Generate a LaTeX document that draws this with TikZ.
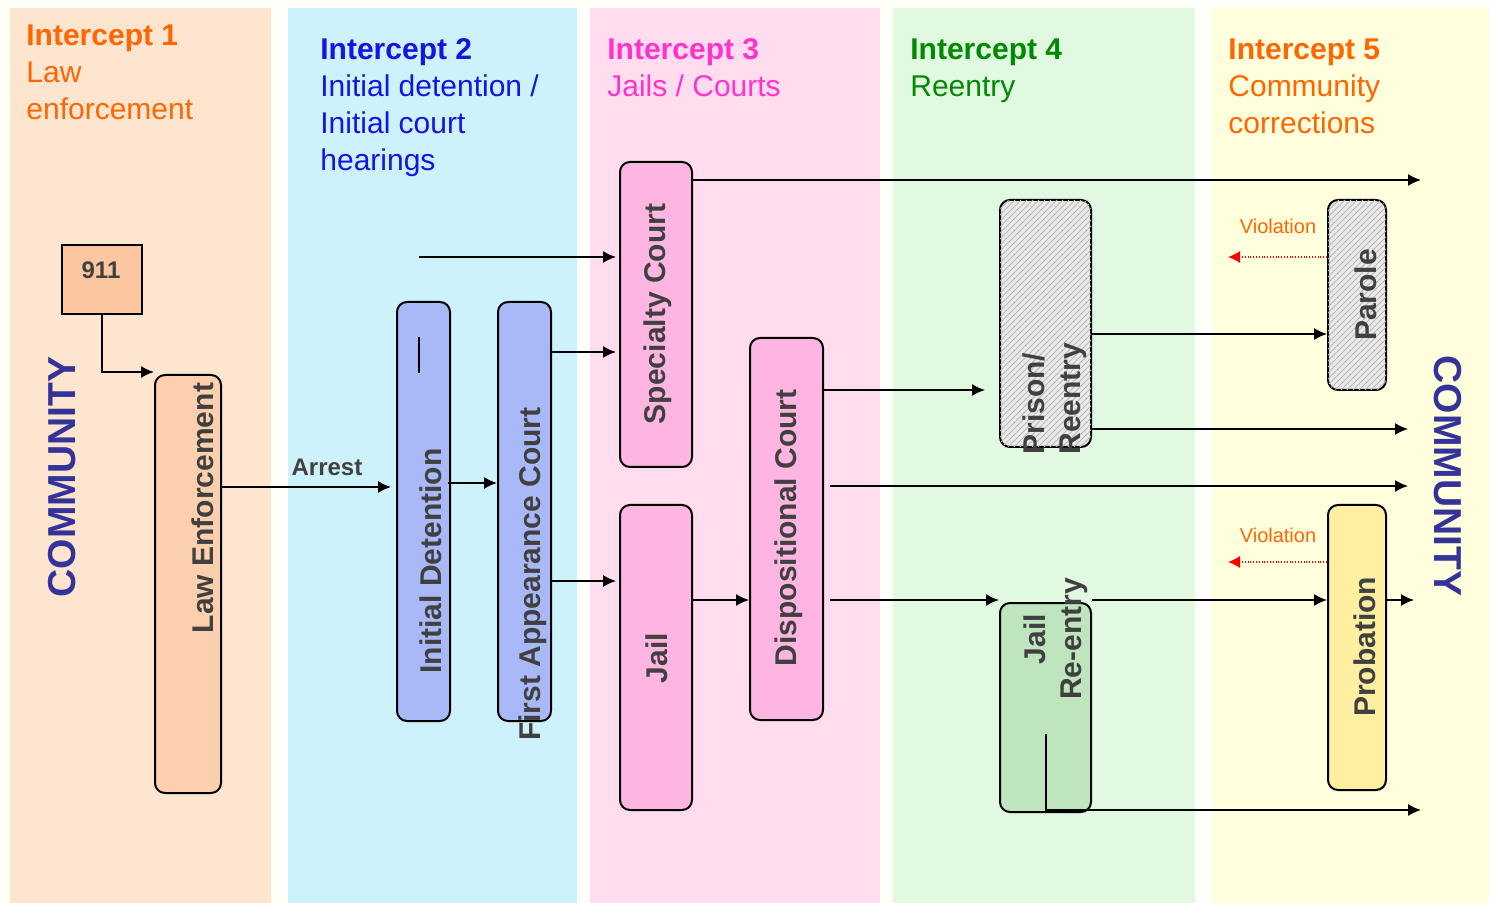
\documentclass[tikz,border=0pt]{standalone}
\usepackage{fontspec}
\setmainfont{Liberation Sans}
\usetikzlibrary{arrows.meta,fit,patterns}
\definecolor{bandA}{HTML}{FDE5CF}
\definecolor{bandB}{HTML}{CDF2FB}
\definecolor{bandC}{HTML}{FFDDEF}
\definecolor{bandD}{HTML}{E1F8E1}
\definecolor{bandE}{HTML}{FFFFDD}
\definecolor{cNine}{HTML}{FBC6A0}
\definecolor{cLaw}{HTML}{FCCFAE}
\definecolor{cBlue}{HTML}{A9B8F6}
\definecolor{cPink}{HTML}{FFB5E2}
\definecolor{cGray}{HTML}{EAEAEA}
\definecolor{cGreen}{HTML}{BFE5BF}
\definecolor{cYel}{HTML}{FFEFA0}
\definecolor{txtgray}{HTML}{404040}
\definecolor{orangeT}{HTML}{FF6600}
\definecolor{blueT}{HTML}{1414E6}
\definecolor{pinkT}{HTML}{FF33CC}
\definecolor{greenT}{HTML}{008A00}
\definecolor{navyT}{HTML}{333399}
\begin{document}
\begin{tikzpicture}[x=0.5pt,y=-0.5pt,
  band/.style={fill=#1, draw=none},
  box/.style={draw=black, line width=1pt, rounded corners=5pt, fill=#1, inner sep=0pt},
  hatched/.style={postaction={pattern=north east lines, pattern color=gray!55}},
  lbl/.style={font=\fontsize{15}{18}\selectfont\bfseries, text=txtgray, rotate=90, inner sep=0pt},
  hdr/.style={anchor=north west, align=left, inner sep=0pt, font=\fontsize{15}{18.5}\selectfont, text=#1},
  commun/.style={font=\fontsize{19.5}{22}\selectfont\bfseries, text=navyT, inner sep=0pt},
  small/.style={font=\fontsize{12}{14}\selectfont\bfseries, text=txtgray, inner sep=0pt},
  viollbl/.style={font=\fontsize{10}{12}\selectfont, text=orangeT, inner sep=0pt},
  arr/.style={line width=0.75pt, -{Latex[length=6.5pt,width=6pt]}},
  viol/.style={red, line width=0.6pt, dash pattern=on 0.5pt off 0.9pt, -{Latex[length=6pt,width=6pt]}},
]
\useasboundingbox (0,0) rectangle (1489,903);
\fill[white!98!yellow] (0,0) rectangle (1489,903);
% bands
\fill[band=bandA] (10,8) rectangle (271,903);
\fill[band=bandB] (288,8) rectangle (577,903);
\fill[band=bandC] (590,8) rectangle (880,903);
\fill[band=bandD] (893,8) rectangle (1195,903);
\fill[band=bandE] (1212,8) rectangle (1489,903);
% headers
\node[hdr=orangeT] (h1) at (26,24) {\textbf{Intercept 1}\\Law\\enforcement};
\node[hdr=blueT] (h2) at (320,38) {\textbf{Intercept 2}\\Initial detention /\\Initial court\\hearings};
\node[hdr=pinkT] (h3) at (607,38) {\textbf{Intercept 3}\\Jails / Courts};
\node[hdr=greenT] (h4) at (910,38) {\textbf{Intercept 4}\\Reentry};
\node[hdr=orangeT] (h5) at (1228,38) {\textbf{Intercept 5}\\Community\\corrections};
% community labels
\node[commun, rotate=90] (commL) at (62,477) {COMMUNITY};
\node[commun, rotate=-90] (commR) at (1448,476) {COMMUNITY};
% boxes
\node[box=cNine, sharp corners, fit={(62,245) (142,314)}] (n911) {};
\node[box=cLaw, fit={(155,375) (221,793)}] (le) {};
\node[box=cBlue, fit={(397,302) (450,721)}] (idet) {};
\node[box=cBlue, fit={(498,302) (551,721)}] (fac) {};
\node[box=cPink, fit={(620,162) (692,467)}] (sc) {};
\node[box=cPink, fit={(620,505) (692,810)}] (jail) {};
\node[box=cPink, fit={(750,338) (823,720)}] (dc) {};
\node[box=cGray, hatched, fit={(1000,200) (1091,447)}] (pr) {};
\node[box=cGreen, fit={(1000,603) (1091,812)}] (jre) {};
\node[box=cGray, hatched, fit={(1328,200) (1386,390)}] (parole) {};
\node[box=cYel, fit={(1328,505) (1386,790)}] (prob) {};
% box labels
\node[small] (t911) at (101,270) {911};
\node[lbl] (tle) at (203,508) {Law Enforcement};
\node[lbl] (tid) at (431,561) {Initial Detention};
\draw[line width=0.75pt] (419,337) -- (419,373);
\node[lbl] (tfac) at (533,574) {First Appearance Court};
\node[lbl] (tsc) at (658,314) {Specialty Court};
\node[lbl] (tjail) at (657,658) {Jail};
\node[lbl] (tdc) at (789,528) {Dispositional Court};
\node[lbl, align=left, anchor=west] (tpr) at (1055,455) {Prison/\\Reentry};
\node[lbl, align=center] (tjre) at (1056,639) {Jail\\Re-entry};
\node[lbl] (tpar) at (1366,295) {Parole};
\node[lbl] (tprob) at (1365,647) {Probation};
\node[small] (tarr) at (327,467) {Arrest};
% free ends
\coordinate (s257) at (419,257);
\coordinate (e180) at (1421,180);
\coordinate (e486) at (1408,486);
\coordinate (e429) at (1408,429);
\coordinate (e600) at (1414,600);
\coordinate (e810) at (1421,810);
\coordinate (jin) at (1046,734);
\coordinate (v1) at (1228,257);
\coordinate (v2) at (1228,562);
% connectors
\draw[arr] (n911.south) |- (le.west |- 0,372);
\draw[arr, shorten >=2.5pt] (le.east |- 0,487) -- (idet.west |- 0,487);
\draw[arr] ([xshift=-1.5pt]idet.east |- 0,483) -- (fac.west |- 0,483);
\draw[arr, shorten >=1.5pt] (fac.east |- 0,352) -- (sc.west |- 0,352);
\draw[arr, shorten >=1.5pt] (fac.east |- 0,581) -- (jail.west |- 0,581);
\draw[arr, shorten >=1.5pt] (s257) -- (sc.west |- s257);
\draw[arr] (sc.east |- e180) -- (e180);
\draw[arr] (jail.east |- 0,600) -- (dc.west |- 0,600);
\draw[arr, shorten >=7pt] (dc.east |- 0,390) -- (pr.west |- 0,390);
\draw[arr, shorten <=3pt] (dc.east |- e486) -- (e486);
\draw[arr, shorten <=3pt] (dc.east |- 0,600) -- (jre.west |- 0,600);
\draw[arr] (pr.east |- 0,334) -- (parole.west |- 0,334);
\draw[arr] (pr.east |- e429) -- (e429);
\draw[arr] (jre.east |- 0,600) -- (prob.west |- 0,600);
\draw[arr] (prob.east |- e600) -- (e600);
\draw[arr] (jin) |- (e810);
\draw[viol] (parole.west |- v1) -- (v1);
\draw[viol] (prob.west |- v2) -- (v2);
\node[viollbl] (vl1) at (1278,226) {Violation};
\node[viollbl] (vl2) at (1278,535) {Violation};
\end{tikzpicture}
\end{document}
